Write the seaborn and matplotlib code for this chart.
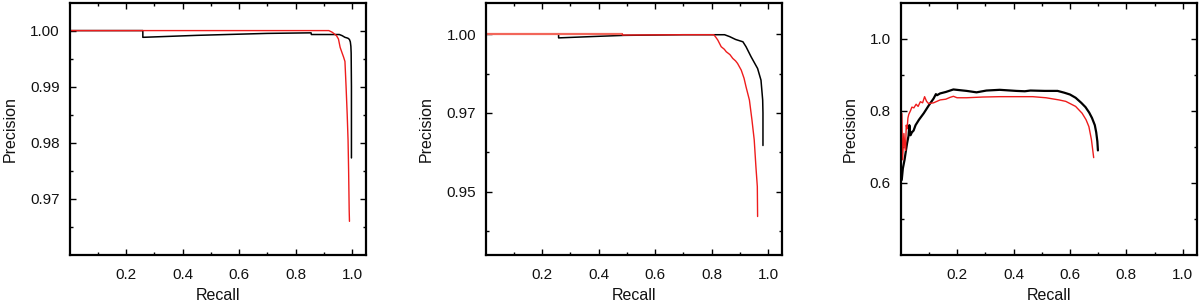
import seaborn as sns
import numpy as np
import matplotlib.pyplot as plt
import pandas as pd
from matplotlib.ticker import FixedLocator, FormatStrFormatter

# panel 1 (recall / precision pairs)
p1_black_recall = [0.0, 0.259, 0.259, 0.45, 0.70, 0.855, 0.856, 0.955, 0.965, 0.975,
                   0.982, 0.987, 0.991, 0.994, 0.996, 0.997, 0.998, 0.998]
p1_black_prec = [1.0, 1.0, 0.9988, 0.99915, 0.9995, 0.9996, 0.9993, 0.9993, 0.9991, 0.9988,
                 0.9987, 0.9986, 0.9984, 0.9980, 0.9972, 0.996, 0.990, 0.9773]
p1_red_recall = [0.0, 0.918, 0.930, 0.945, 0.952, 0.958, 0.965, 0.970, 0.975, 0.979,
                 0.983, 0.986, 0.988, 0.990, 0.991]
p1_red_prec = [1.0, 1.0, 0.9997, 0.9991, 0.9985, 0.9970, 0.9960, 0.9953, 0.9945, 0.990,
               0.985, 0.9805, 0.975, 0.968, 0.966]

# panel 2
p2_black_recall = [0.0, 0.258, 0.258, 0.40, 0.49, 0.70, 0.846, 0.864, 0.885, 0.899, 0.911,
                   0.922, 0.940, 0.963, 0.975, 0.981, 0.982, 0.982]
p2_black_prec = [1.0, 1.0, 0.9988, 0.9993, 0.9996, 0.9998, 0.9998, 0.9992, 0.9983, 0.9979,
                 0.99756, 0.996, 0.9928, 0.9891, 0.9854, 0.9791, 0.975, 0.9647]
p2_pink_recall = [0.0, 0.484]
p2_pink_prec = [1.0, 1.0]
p2_red_recall = [0.484, 0.484, 0.70, 0.808, 0.815, 0.822, 0.834, 0.845, 0.852, 0.865,
                 0.875, 0.885, 0.892, 0.905, 0.915, 0.922, 0.934, 0.943, 0.951, 0.957,
                 0.962, 0.963]
p2_red_prec = [1.0, 0.9997, 0.9998, 0.9998, 0.9990, 0.9981, 0.996, 0.9952, 0.9944,
               0.9935, 0.9923, 0.9915, 0.9907, 0.9886, 0.9860, 0.9833, 0.9791, 0.9728,
               0.9665, 0.958, 0.9517, 0.9422]

# panel 3
p3_black_recall = [0.004, 0.008, 0.014, 0.019, 0.023, 0.028, 0.031, 0.035, 0.040, 0.046,
                   0.053, 0.065, 0.082, 0.100, 0.117, 0.125, 0.129, 0.140, 0.160, 0.187,
                   0.210, 0.234, 0.269, 0.304, 0.351, 0.410, 0.440, 0.460, 0.510, 0.556,
                   0.580, 0.600, 0.620, 0.640, 0.655, 0.668, 0.678, 0.688, 0.693, 0.697,
                   0.699]
p3_black_prec = [0.608, 0.640, 0.664, 0.690, 0.710, 0.730, 0.760, 0.732, 0.740, 0.745,
                 0.760, 0.775, 0.793, 0.815, 0.834, 0.846, 0.843, 0.848, 0.852, 0.859,
                 0.857, 0.855, 0.851, 0.856, 0.858, 0.855, 0.854, 0.856, 0.855, 0.855,
                 0.850, 0.845, 0.836, 0.822, 0.810, 0.795, 0.780, 0.760, 0.740, 0.715,
                 0.690]
p3_red_recall = [0.002, 0.0035, 0.007, 0.0117, 0.015, 0.0175, 0.020, 0.023, 0.026, 0.029,
                 0.035, 0.040, 0.047, 0.055, 0.062, 0.070, 0.078, 0.085, 0.092, 0.099,
                 0.117, 0.140, 0.160, 0.175, 0.187, 0.200, 0.234, 0.290, 0.351, 0.410,
                 0.468, 0.515, 0.561, 0.585, 0.620, 0.643, 0.657, 0.667, 0.676, 0.684]
p3_red_prec = [0.63, 0.793, 0.664, 0.737, 0.70, 0.69, 0.76, 0.75, 0.78, 0.79,
               0.80, 0.81, 0.808, 0.818, 0.812, 0.825, 0.822, 0.839, 0.826, 0.82,
               0.822, 0.83, 0.832, 0.837, 0.84, 0.836, 0.836, 0.838, 0.839, 0.839,
               0.839, 0.836, 0.830, 0.826, 0.812, 0.793, 0.775, 0.756, 0.72, 0.67]

RED = '#ee1c1c'
panels = [
    dict(lines=[(p1_black_recall, p1_black_prec, 'black', 1.1),
                (p1_red_recall, p1_red_prec, RED, 1.0)],
         ylim=(0.96, 1.005), yticks=[0.97, 0.98, 0.99, 1.00],
         ylabels=['0.97', '0.98', '0.99', '1.00'],
         yminor=[0.965, 0.975, 0.985, 0.995]),
    dict(lines=[(p2_black_recall, p2_black_prec, 'black', 1.1),
                (p2_pink_recall, p2_pink_prec, '#f2665a', 1.6),
                (p2_red_recall, p2_red_prec, RED, 1.0)],
         ylim=(0.93, 1.01), yticks=[0.95, 0.975, 1.00],
         ylabels=['0.95', '0.97', '1.00'],
         yminor=[0.9375, 0.9625, 0.9875]),
    dict(lines=[(p3_black_recall, p3_black_prec, 'black', 1.6),
                (p3_red_recall, p3_red_prec, RED, 1.0)],
         ylim=(0.4, 1.1), yticks=[0.6, 0.8, 1.0],
         ylabels=['0.6', '0.8', '1.0'],
         yminor=[0.5, 0.7, 0.9]),
]

sns.set_theme(style="ticks")
plt.rcParams['font.family'] = ['Liberation Sans', 'DejaVu Sans']

fig = plt.figure(figsize=(12, 3.02), dpi=100)
lefts = [0.0581, 0.4048, 0.7505]

for left, p in zip(lefts, panels):
    ax = fig.add_axes([left, 0.1556, 0.247, 0.836])
    for rec, prec, col, lw in p['lines']:
        df = pd.DataFrame({'Recall': rec, 'Precision': prec})
        sns.lineplot(data=df, x='Recall', y='Precision', sort=False, estimator=None,
                     color=col, lw=lw, ax=ax)
    ax.set_xlim(0, 1.05)
    ax.set_ylim(*p['ylim'])
    ax.set_xticks([0.2, 0.4, 0.6, 0.8, 1.0])
    ax.xaxis.set_major_formatter(FormatStrFormatter('%.1f'))
    ax.xaxis.set_minor_locator(FixedLocator([0.1, 0.3, 0.5, 0.7, 0.9]))
    ax.set_yticks(p['yticks'])
    ax.set_yticklabels(p['ylabels'])
    ax.yaxis.set_minor_locator(FixedLocator(p['yminor']))
    ax.tick_params(which='both', direction='in', top=True, right=True,
                   color='black', labelsize=11, labelcolor='#111111')
    ax.tick_params(which='major', length=4, width=1.0)
    ax.tick_params(which='minor', length=2, width=1.0)
    ax.tick_params(axis='x', which='major', pad=9)
    ax.tick_params(axis='y', which='major', pad=7)
    for s in ax.spines.values():
        s.set_visible(True)
        s.set_linewidth(1.6)
        s.set_color('black')
    ax.set_xlabel('Recall', fontsize=11.5, labelpad=5, color='#111111')
    ax.set_ylabel('Precision', fontsize=11.5, labelpad=9, color='#111111')

fig.savefig('out.png', dpi=100, facecolor='white')
